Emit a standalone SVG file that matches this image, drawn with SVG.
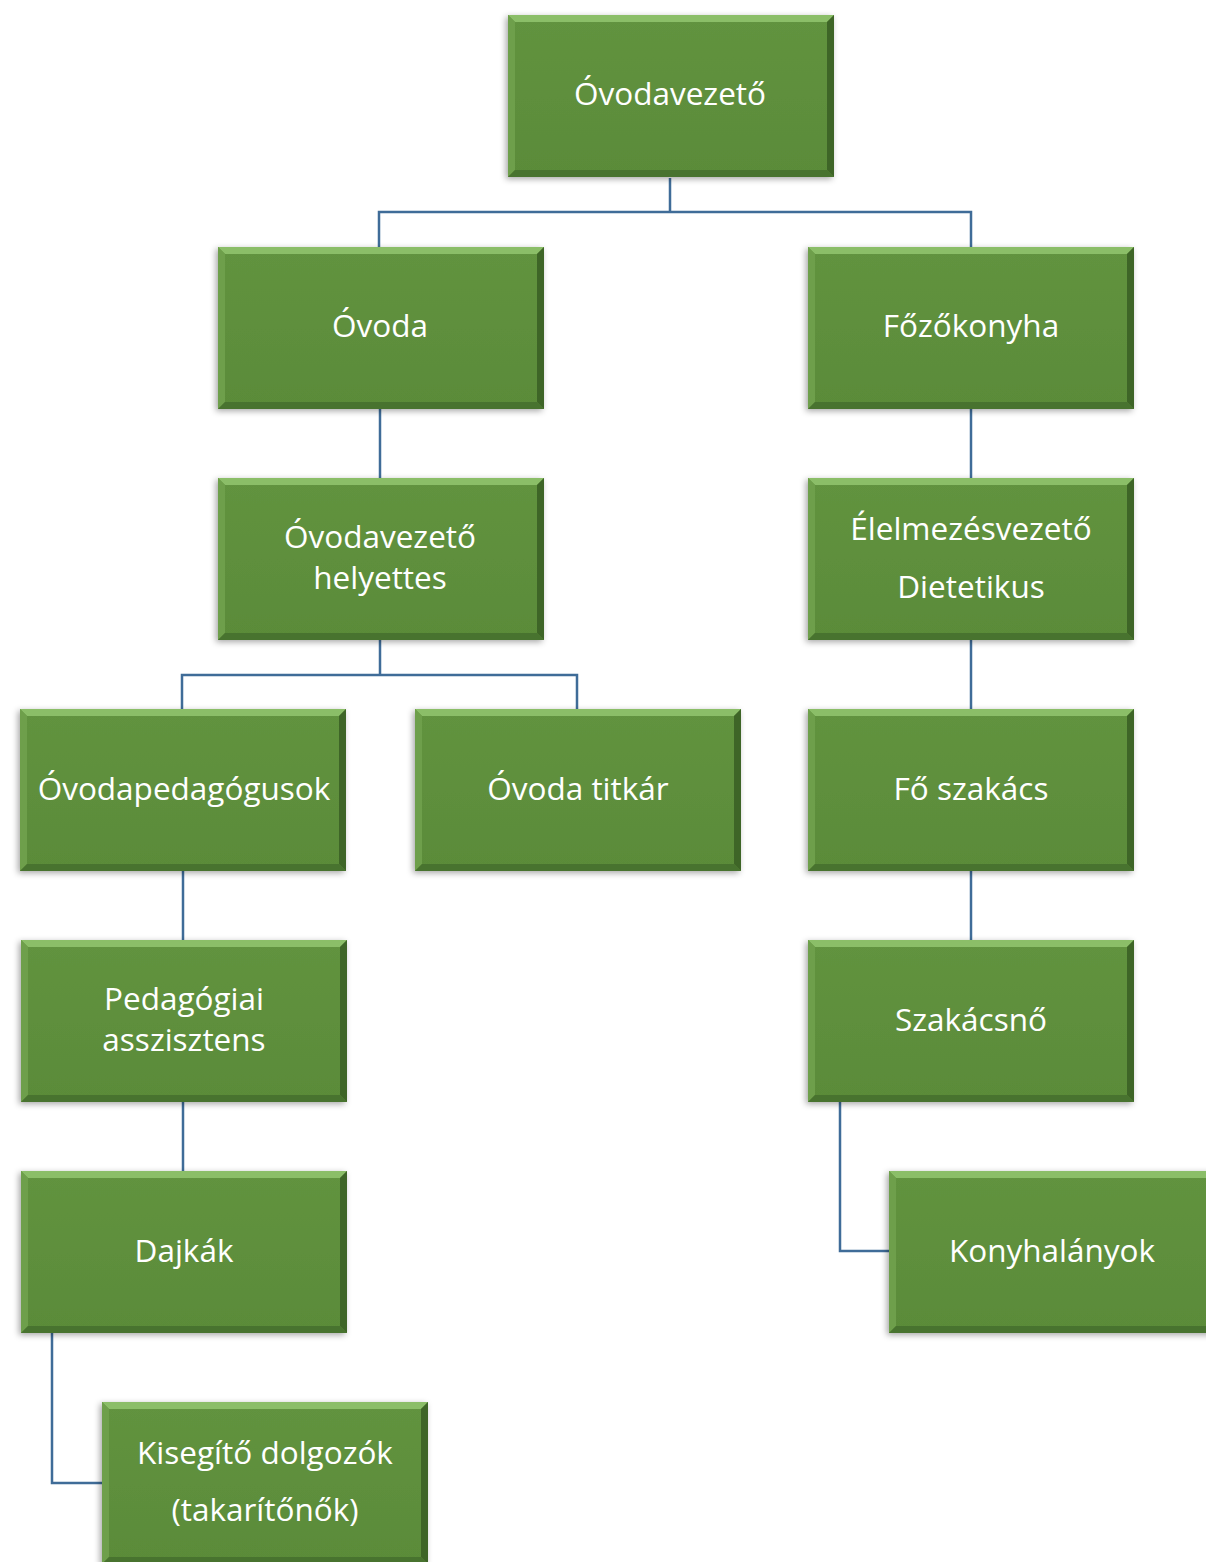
<svg xmlns="http://www.w3.org/2000/svg" xmlns:xlink="http://www.w3.org/1999/xlink" width="1206" height="1562" viewBox="0 0 1206 1562">
<style>
.lbl{font-family:"Open Sans","Noto Sans","Liberation Sans",Arial,sans-serif;font-size:31.5px;fill:#ffffff;text-anchor:middle}
.conn{fill:none;stroke:#3F6C98;stroke-width:2.5}
</style>
<defs>
<filter id="sh" x="-10%" y="-10%" width="120%" height="120%">
<feDropShadow dx="-2" dy="2" stdDeviation="3" flood-color="#000" flood-opacity="0.35"/>
</filter>
<linearGradient id="fillg" x1="0" y1="0" x2="0" y2="1">
<stop offset="0" stop-color="#62933F"/>
<stop offset="1" stop-color="#5A8B39"/>
</linearGradient>
<g id="box">
<rect x="0" y="0" width="326" height="162" fill="url(#fillg)" filter="url(#sh)"/>
<polygon points="0,0 326,0 319,7 7,7" fill="#8BBE68"/>
<polygon points="0,0 7,7 7,155 0,162" fill="#6E9F4B"/>
<polygon points="326,0 326,162 319,155 319,7" fill="#3E6527"/>
<polygon points="0,162 326,162 319,155 7,155" fill="#48732F"/>
</g>
</defs>
<rect width="1206" height="1562" fill="#ffffff"/>
<g id="connectors">
<path class="conn" d="M670,178 V212 M379,247 V212 H971 V247"/>
<path class="conn" d="M380,409 V478"/>
<path class="conn" d="M380,640 V675 M182,709 V675 H577 V709"/>
<path class="conn" d="M183,871 V940"/>
<path class="conn" d="M183,1102 V1171"/>
<path class="conn" d="M52,1333 V1483 H102"/>
<path class="conn" d="M971,409 V478"/>
<path class="conn" d="M971,640 V709"/>
<path class="conn" d="M971,871 V940"/>
<path class="conn" d="M840,1102 V1251 H889"/>
</g>
<g id="n-ovodavezeto"><use xlink:href="#box" x="508" y="15"/><text class="lbl" x="670" y="105">Óvodavezető</text></g>
<g id="n-ovoda"><use xlink:href="#box" x="218" y="247"/><text class="lbl" x="380" y="337">Óvoda</text></g>
<g id="n-fozokonyha"><use xlink:href="#box" x="808" y="247"/><text class="lbl" x="971" y="337">Főzőkonyha</text></g>
<g id="n-helyettes"><use xlink:href="#box" x="218" y="478"/><text class="lbl" x="380" y="548">Óvodavezető</text><text class="lbl" x="380" y="589">helyettes</text></g>
<g id="n-elelmezes"><use xlink:href="#box" x="808" y="478"/><text class="lbl" x="971" y="540">Élelmezésvezető</text><text class="lbl" x="971" y="598">Dietetikus</text></g>
<g id="n-pedagogusok"><use xlink:href="#box" x="20" y="709"/><text class="lbl" x="184" y="800">Óvodapedagógusok</text></g>
<g id="n-titkar"><use xlink:href="#box" x="415" y="709"/><text class="lbl" x="578" y="800">Óvoda titkár</text></g>
<g id="n-foszakacs"><use xlink:href="#box" x="808" y="709"/><text class="lbl" x="971" y="800">Fő szakács</text></g>
<g id="n-asszisztens"><use xlink:href="#box" x="21" y="940"/><text class="lbl" x="184" y="1010">Pedagógiai</text><text class="lbl" x="184" y="1051">asszisztens</text></g>
<g id="n-szakacsno"><use xlink:href="#box" x="808" y="940"/><text class="lbl" x="971" y="1031">Szakácsnő</text></g>
<g id="n-dajkak"><use xlink:href="#box" x="21" y="1171"/><text class="lbl" x="184" y="1262">Dajkák</text></g>
<g id="n-konyhalanyok"><use xlink:href="#box" x="889" y="1171"/><text class="lbl" x="1052" y="1262">Konyhalányok</text></g>
<g id="n-kisegito"><use xlink:href="#box" x="102" y="1402"/><text class="lbl" x="265" y="1464">Kisegítő dolgozók</text><text class="lbl" x="265" y="1521">(takarítőnők)</text></g>
</svg>
